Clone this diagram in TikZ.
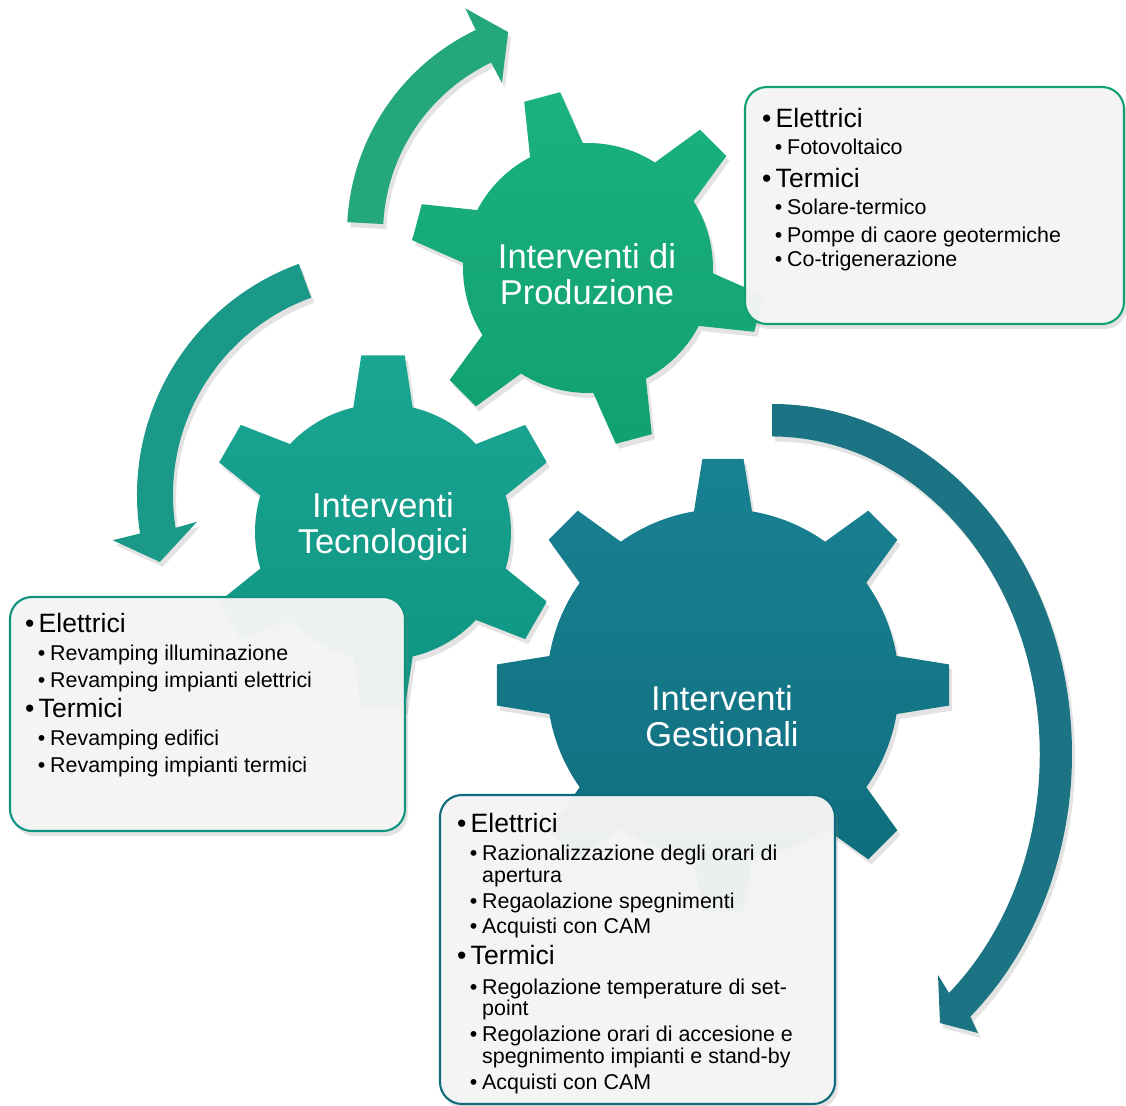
\documentclass[tikz,border=0pt]{standalone}
\usepackage{fontspec}
\setmainfont{Liberation Sans}
\usetikzlibrary{shadows}

\definecolor{prodgreen}{RGB}{17,160,112}
\definecolor{prodgreenlt}{RGB}{26,178,126}
\definecolor{tecngreen}{RGB}{15,148,130}
\definecolor{tecngreenlt}{RGB}{26,166,146}
\definecolor{gestteal}{RGB}{15,108,124}
\definecolor{gesttealt}{RGB}{24,130,146}
\definecolor{boxgray}{RGB}{245,245,245}

\newcommand{\gearfont}{\fontsize{9.8pt}{10.2pt}\selectfont}
\newcommand{\bigfont}{\fontsize{7.55pt}{8pt}\selectfont}
\newcommand{\smallfont}{\fontsize{6.09pt}{6.3pt}\selectfont}

\begin{document}
\begin{tikzpicture}[x=0.01cm, y=-0.01cm,
    softshadow/.style={drop shadow={opacity=0.22, shadow xshift=0.3mm, shadow yshift=-0.5mm}},
    gearlabel/.style={text=white, font=\gearfont, align=center},
    infobox/.style={draw=#1, line width=0.6pt, rounded corners=0.22cm,
        fill=boxgray, fill opacity=0.96, softshadow},
    lv1/.style={anchor=base west, inner sep=0pt, font=\bigfont,
        execute at begin node={\llap{•\hspace{1.2pt}}}},
    lv2/.style={anchor=base west, inner sep=0pt, font=\smallfont, xshift=0.115cm,
        execute at begin node={\llap{•\hspace{1.4pt}}}},
    lv3/.style={anchor=base west, inner sep=0pt, font=\smallfont, xshift=0.115cm}]
  \useasboundingbox (0,0) rectangle (1126,1106);
  \fill[white] (0,0) rectangle (1126,1106);

  % curved arrows
  \begin{scope}[shift={(573,234)}, x=0.01cm, y=0.01cm]
    \fill[prodgreen!92!white, softshadow] (177:190) -- (177:226)
      arc[start angle=177, end angle=115.5, radius=226] -- (115.5:250) -- (107.8:212)
      -- (115.2:167) -- (115.5:190) arc[start angle=115.5, end angle=177, radius=190] -- cycle;
  \end{scope}
  \begin{scope}[shift={(383,495)}, x=0.01cm, y=0.01cm]
    \fill[tecngreen!95!white, softshadow] (110:210) -- (110:246)
      arc[start angle=110, end angle=189, radius=246] -- (189.5:274) -- (196.7:233)
      -- (188.2:188) -- (189:210) arc[start angle=189, end angle=110, radius=210] -- cycle;
  \end{scope}
  \begin{scope}[shift={(772,754)}, x=0.01cm, y=0.01cm]
    \fill[gestteal!95!white, softshadow] (0,318) -- (0,350)
      arc[start angle=90, end angle=-48.6, x radius=300, y radius=350] -- (206,-279) -- (168,-269)
      -- (166,-221) -- (177,-239) arc[start angle=-48.6, end angle=90, x radius=268, y radius=318] -- cycle;
  \end{scope}

  % gears
  \begin{scope}[shift={(723,685)}, x=0.01cm, y=0.01cm]
    \shade[top color=gesttealt, bottom color=gestteal, softshadow] (-9.5:176)
      \foreach \t in {0,45,...,315} { -- (\t-5.2:227) -- (\t+5.2:227) -- (\t+9.5:176)
      arc[start angle=\t+9.5, end angle=\t+35.5, radius=176] } -- cycle;
  \end{scope}
  \begin{scope}[shift={(383,532)}, x=0.01cm, y=0.01cm]
    \shade[top color=tecngreenlt, bottom color=tecngreen, softshadow] (16.6:128)
      \foreach \t in {30,90,...,330} { -- (\t-7:178) -- (\t+7:178) -- (\t+13.4:128)
      arc[start angle=\t+13.4, end angle=\t+46.6, radius=128] } -- cycle;
  \end{scope}
  \begin{scope}[shift={(588,268)}, x=0.01cm, y=0.01cm]
    \shade[top color=prodgreenlt, bottom color=prodgreen, softshadow] (32.4:125)
      \foreach \t in {45,105,...,345} { -- (\t-6:178) -- (\t+6:178) -- (\t+12.6:125)
      arc[start angle=\t+12.6, end angle=\t+47.4, radius=125] } -- cycle;
  \end{scope}

  \node[gearlabel] (prodlabel) at (587,274) {Interventi di\\Produzione};
  \node[gearlabel] (tecnlabel) at (383,527) {Interventi\\Tecnologici};
  \node[gearlabel] (gestlabel) at (722,716) {Interventi\\Gestionali};

  % info boxes
  \path[infobox=prodgreen] (745,87) rectangle (1124,324);
  \path[infobox=tecngreen] (10,597) rectangle (405,831);
  \path[infobox=gestteal] (440,795) rectangle (835,1104);

  \foreach \lv/\y/\tx [count=\i] in {1/127/Elettrici, 2/155/Fotovoltaico, 1/187/Termici,
      2/215/Solare-termico, 2/242/Pompe di caore geotermiche, 2/267/Co-trigenerazione}
    \node[lv\lv] (prod\i) at (775,\y) {\tx};
  \foreach \lv/\y/\tx [count=\i] in {1/632/Elettrici, 2/660/Revamping illuminazione,
      2/687/Revamping impianti elettrici, 1/717/Termici, 2/745/Revamping edifici,
      2/772/Revamping impianti termici}
    \node[lv\lv] (tecn\i) at (38,\y) {\tx};
  \foreach \lv/\y/\tx [count=\i] in {1/833/Elettrici, 2/860/Razionalizzazione degli orari di,
      3/882/apertura, 2/908/Regaolazione spegnimenti, 2/933/Acquisti con CAM, 1/965/Termici,
      2/994/Regolazione temperature di set-, 3/1015/point, 2/1041/Regolazione orari di accesione e,
      3/1063/spegnimento impianti e stand-by, 2/1089/Acquisti con CAM}
    \node[lv\lv] (gest\i) at (470,\y) {\tx};
\end{tikzpicture}
\end{document}
